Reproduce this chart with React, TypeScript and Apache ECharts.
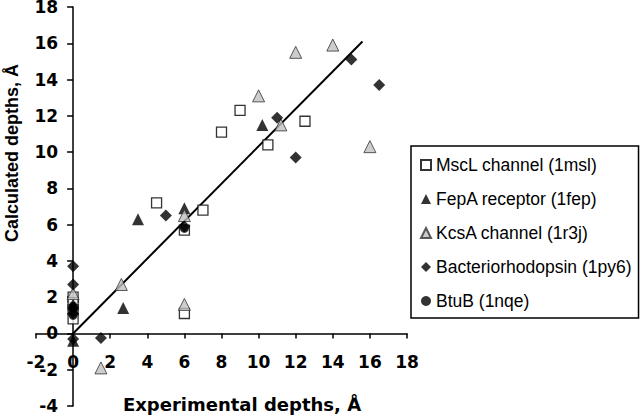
import React, { useEffect, useRef } from "react";
import * as echarts from "echarts";

const seriesNames = [
  "MscL channel (1msl)",
  "FepA receptor (1fep)",
  "KcsA channel (1r3j)",
  "Bacteriorhodopsin (1py6)",
  "BtuB (1nqe)",
];

const msclPoints: [number, number][] = [
  [0, 2.0], [0, 1.7], [0, 1.3], [0, 0.8],
  [4.5, 7.2], [6, 5.7], [6, 1.1], [7, 6.8], [8, 11.1], [9, 12.3], [10.5, 10.4], [12.5, 11.7],
];
const fepaPoints: [number, number][] = [
  [0, 1.6], [0, -0.4], [2.7, 1.4], [3.5, 6.3], [6, 6.9], [10.2, 11.5],
];
const kcsaPoints: [number, number][] = [
  [0, 2.2], [1.5, -1.9], [2.6, 2.7], [6, 1.6], [6, 6.5], [10, 13.1], [11.2, 11.5],
  [12, 15.5], [14, 15.9], [16, 10.3],
];
const bacteriorhodopsinPoints: [number, number][] = [
  [0, 3.7], [0, 2.7], [0, 1.4], [0, 1.1], [0, -0.3], [1.5, -0.25], [5, 6.5], [6, 5.9],
  [11, 11.9], [12, 9.7], [15, 15.1], [16.5, 13.7],
];
const btubPoints: [number, number][] = [
  [0, 1.5], [0, 1.2], [0, 1.0], [6, 5.8],
];
const trendLine: [number, number][] = [
  [0, 0], [15.6, 16.1],
];

const xTicks = { min: -2, max: 18, interval: 2 };
const yTicks = { min: -4, max: 18, interval: 2 };

const GRID = { left: 36, right: 233, top: 7, bottom: 9 };
const W = 640;
const H = 415;

const tickFont = { fontFamily: "DejaVu Sans", fontWeight: "bold" as const, fontSize: 17, color: "#000" };

export default function App() {
  const ref = useRef<HTMLDivElement>(null);
  useEffect(() => {
    if (!ref.current) return;
    const chart = echarts.init(ref.current, null, { renderer: "svg" });
    const gw = W - GRID.left - GRID.right;
    const gh = H - GRID.top - GRID.bottom;
    // axes cross at zero: shift each axis inward from the grid edge
    const yAxisOffset = -((0 - xTicks.min) / (xTicks.max - xTicks.min)) * gw;
    const xAxisOffset = -((0 - yTicks.min) / (yTicks.max - yTicks.min)) * gh;
    chart.setOption({
      animation: false,
      backgroundColor: "#fff",
      grid: { ...GRID, containLabel: false, outerBoundsMode: "none" },
      xAxis: {
        type: "value",
        position: "bottom",
        offset: xAxisOffset,
        min: xTicks.min,
        max: xTicks.max,
        interval: xTicks.interval,
        axisLine: { onZero: false, lineStyle: { color: "#000", width: 1.5 } },
        axisTick: { show: true, inside: false, length: 5, lineStyle: { color: "#000", width: 1.5 } },
        axisLabel: { ...tickFont, margin: 20 },
        splitLine: { show: false },
      },
      yAxis: {
        type: "value",
        position: "left",
        offset: yAxisOffset,
        min: yTicks.min,
        max: yTicks.max,
        interval: yTicks.interval,
        axisLine: { onZero: false, lineStyle: { color: "#000", width: 1.5 } },
        axisTick: { show: true, inside: false, length: 6, lineStyle: { color: "#000", width: 1.5 } },
        axisLabel: { ...tickFont, margin: 15 },
        splitLine: { show: false },
      },
      legend: {
        orient: "vertical",
        left: 411,
        top: 146,
        padding: [9, 7, 7, 9],
        itemGap: 14,
        itemWidth: 10,
        itemHeight: 10,
        borderColor: "#000",
        borderWidth: 1.5,
        backgroundColor: "#fff",
        selectedMode: false,
        textStyle: { fontFamily: "Liberation Sans", fontSize: 17.5, color: "#000", lineHeight: 20 },
        data: seriesNames,
      },
      graphic: [
        {
          type: "text",
          x: 242,
          y: 404,
          style: {
            text: "Experimental depths, Å",
            font: 'bold 18px "DejaVu Sans"',
            fill: "#000",
            textAlign: "center",
            textVerticalAlign: "middle",
          },
        },
        {
          type: "text",
          x: 12,
          y: 153,
          rotation: Math.PI / 2,
          style: {
            text: "Calculated depths, Å",
            font: 'bold 18px "Liberation Sans"',
            fill: "#000",
            textAlign: "center",
            textVerticalAlign: "middle",
          },
        },
      ],
      series: [
        {
          type: "line",
          name: "trend",
          data: trendLine,
          symbol: "none",
          lineStyle: { color: "#000", width: 2 },
          z: 1,
        },
        {
          type: "scatter",
          name: seriesNames[0],
          data: msclPoints,
          symbol: "rect",
          symbolSize: 10,
          itemStyle: { color: "#fff", borderColor: "#000", borderWidth: 1.3 },
          z: 2,
        },
        {
          type: "scatter",
          name: seriesNames[1],
          data: fepaPoints,
          symbol: "triangle",
          symbolSize: 12,
          itemStyle: { color: "#000" },
          z: 3,
        },
        {
          type: "scatter",
          name: seriesNames[2],
          data: kcsaPoints,
          symbol: "triangle",
          symbolSize: 12,
          itemStyle: { color: "#c0c0c0", borderColor: "#333", borderWidth: 1 },
          z: 3,
        },
        {
          type: "scatter",
          name: seriesNames[3],
          data: bacteriorhodopsinPoints,
          symbol: "diamond",
          symbolSize: 12,
          itemStyle: { color: "#000" },
          z: 4,
        },
        {
          type: "scatter",
          name: seriesNames[4],
          data: btubPoints,
          symbol: "circle",
          symbolSize: 9,
          itemStyle: { color: "#000" },
          z: 3,
        },
      ],
    });
    return () => chart.dispose();
  }, []);
  return (
    <div
      ref={ref}
      style={{ position: "fixed", left: 0, top: 0, width: W, height: H, background: "#fff" }}
    />
  );
}
